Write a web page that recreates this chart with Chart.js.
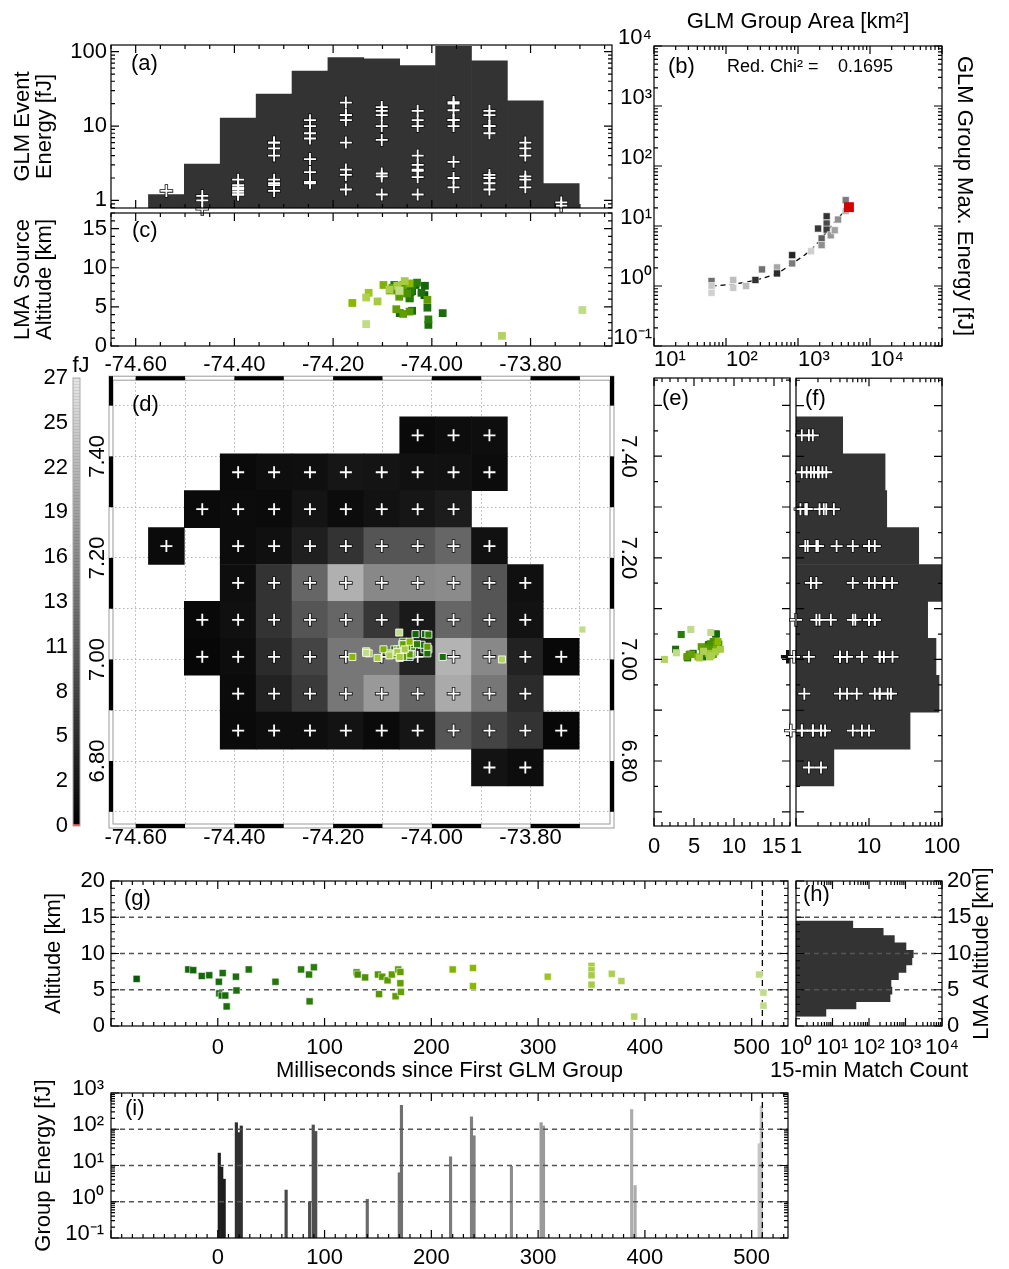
<!DOCTYPE html>
<html>
<head>
<meta charset="utf-8">
<title>GLM / LMA flash overview</title>
<script src="https://cdn.jsdelivr.net/npm/chart.js@4.4.1/dist/chart.umd.min.js"></script>
<style>
  body { margin: 0; background: #fff; }
  #fig { position: relative; width: 1009px; height: 1269px; overflow: hidden; background: #fff; }
  #fig canvas { position: absolute; }
</style>
</head>
<body>
<div id="fig"></div>
<script>
// ---------------- data ----------------
// GLM pixel grid (panel d): pixel centre longitudes / latitudes
const glmColLon = [-74.5378, -74.4651, -74.3924, -74.3196, -74.2469, -74.1742, -74.1015, -74.0287, -73.9560, -73.8833, -73.8106, -73.7378];
const glmRowLat = [7.4415, 7.3688, 7.2961, 7.2234, 7.1507, 7.0780, 7.0053, 6.9326, 6.8599, 6.7872];
const GLM_PIX = 0.0727;

// lit pixels: row index, column index, event energy [fJ]
const cellRow = [0,0,0, 1,1,1,1,1,1,1,1, 2,2,2,2,2,2,2,2, 3,3,3,3,3,3,3,3,3, 4,4,4,4,4,4,4,4,4,
                 5,5,5,5,5,5,5,5,5,5, 6,6,6,6,6,6,6,6,6,6,6, 7,7,7,7,7,7,7,7,7, 8,8,8,8,8,8,8,8,8,8, 9,9];
const cellCol = [7,8,9, 2,3,4,5,6,7,8,9, 1,2,3,4,5,6,7,8, 0,2,3,4,5,6,7,8,9, 2,3,4,5,6,7,8,9,10,
                 1,2,3,4,5,6,7,8,9,10, 1,2,3,4,5,6,7,8,9,10,11, 2,3,4,5,6,7,8,9,10, 2,3,4,5,6,7,8,9,10,11, 9,10];
const cellEnergy = [1.2,1.5,1.7, 1.2,1.6,1.77,2.6,2.3,2.05,2.0,1.4, 1.15,1.4,1.34,2.4,1.4,2.1,2.6,3.3,
                    1.34,1.45,1.9,3.6,6,10,10,12,2.0, 1.6,6,12,20.7,16,16,16.3,10,1.9,
                    1.0,1.9,6,10,12,6.5,3,12,10,2.1, 0.77,1.5,5,8,14,14,4,21,16,4,0.94,
                    1.3,4,6.8,14,18,12,20,14,5, 1.2,1.7,1.7,2.2,1.2,2.5,10,8,6,0.85, 2.2,1.5];

// summed energy per longitude column (panel a) and per latitude row (panel f)
const lonHistEnergy = [1.2, 3.07, 12.8, 27, 55, 83, 80, 65, 118, 75.5, 21.8, 1.68];
const latHistEnergy = [4.36, 16.6, 17.5, 48, 130, 63.6, 82.7, 91, 36.5, 3.3];

// LMA sources matched to the flash
const lmaTime = [-76, -27.6, -23, -15, -8, 1, 1.4, 3.7, 4.6, 7, 8.3, 17, 17.5, 29, 54, 78, 85.5, 86, 90, 130, 131, 138,
                 150, 151, 154, 159, 163, 166.5, 169, 171, 171, 171.5, 220, 239, 239, 309, 350, 350, 350, 350, 369, 378, 390, 507, 511, 511];
const lmaAlt = [6.5, 7.8, 7.7, 6.9, 7.0, 6.1, 4.5, 4.2, 7.3, 4.2, 2.7, 6.8, 4.9, 7.8, 6.1, 7.8, 7.1, 3.4, 8.1, 7.4, 7.1, 6.7,
                7.1, 4.4, 6.8, 6.3, 7.1, 4.1, 7.8, 5.9, 7.45, 4.7, 7.8, 8.0, 5.5, 6.8, 8.3, 7.7, 7.0, 5.7, 7.2, 6.2, 1.3, 7.1, 4.6, 2.8];
const lmaLon = [-74.015, -74.033, -74.014, -74.043, -74.040, -74.045, -74.040, -73.978, -74.043, -74.065, -74.007, -74.021,
                -74.009, -74.076, -74.045, -74.040, -74.043, -74.007, -74.030, -74.058, -74.060, -74.050, -74.070, -74.045,
                -74.065, -74.066, -74.085, -74.058, -74.058, -74.009, -74.080, -74.072, -74.098, -74.045, -74.161, -74.128,
                -74.055, -74.070, -74.065, -74.110, -74.086, -74.133, -73.858, -74.066, -73.695, -74.133];
const lmaLat = [7.020, 7.050, 7.050, 7.020, 7.030, 7.005, 7.010, 7.005, 7.010, 7.003, 7.020, 7.029, 7.012, 7.020, 7.015,
                7.025, 7.030, 7.049, 7.030, 7.035, 7.030, 7.025, 7.020, 7.010, 7.020, 7.015, 7.012, 7.005, 7.030, 7.025,
                7.010, 7.010, 7.020, 7.035, 7.005, 7.012, 7.020, 7.015, 7.005, 7.003, 7.008, 7.016, 7.000, 7.053, 7.059, 7.013];

// panel b: group area vs group max event energy
const groupArea = [63, 63, 63, 126, 126, 190, 256, 316, 511, 511, 830, 830, 1520, 1900, 2130, 2130, 2500, 2500, 2500, 2850, 3240, 3600, 4600, 4600];
const groupMaxE = [1.21, 1.0, 0.77, 1.26, 0.93, 1.0, 1.26, 1.89, 2.04, 1.62, 3.27, 2.38, 3.8, 9.06, 6.2, 4.8, 14.5, 11, 8.7, 7.0, 8.5, 12.8, 27, 17.7];
const groupShade = ['#6e6e6e', '#c8c8c8', '#d0d0d0', '#bdbdbd', '#cacaca', '#bdbdbd', '#303030', '#707070', '#a6a6a6', '#2c2c2c', '#262626', '#7a7a7a',
                    '#cfcfcf', '#383838', '#5e5e5e', '#8e8e8e', '#333333', '#4a4a4a', '#3c3c3c', '#959595', '#a0a0a0', '#909090', '#7b7b7b', '#b8b8b8'];
const bestArea = [5100];
const bestMaxE = [20.6];
const fitArea = [63, 130, 256, 511, 830, 1200, 1520, 2000, 2500, 3200, 4000, 4600];
const fitMaxE = [1.0, 1.07, 1.24, 1.6, 2.35, 3.2, 4.0, 5.7, 8.0, 11.5, 15.5, 18.5];

// panel h: 15-minute LMA match counts by altitude bin
const altBinKm = [1.85, 2.86, 3.87, 4.88, 5.89, 6.90, 7.91, 8.93, 9.94, 10.95, 11.96, 12.97, 13.98];
const altBinCount = [6.6, 44, 377, 425, 400, 640, 1030, 1500, 1630, 1030, 495, 245, 36];

// panel i: GLM group energies in time
const groupTime = [1.4, 3.7, 6, 17.4, 19.7, 22, 64, 86, 89.4, 91.7, 140, 170, 172, 218, 237.6, 240, 275, 302.8, 305, 387.6, 390.8, 507, 509];
const groupEnergy = [22, 9, 4.2, 152, 81, 123, 2.1, 1.0, 131, 87, 1.17, 6.3, 460, 17.4, 220, 66, 9.5, 152, 123, 350, 2.8, 40, 435];
const groupEnergyShade = ['#1e1e1e', '#1e1e1e', '#1e1e1e', '#303030', '#303030', '#303030', '#474747', '#4e4e4e', '#4e4e4e', '#4e4e4e', '#6a6a6a', '#707070',
                          '#707070', '#7c7c7c', '#808080', '#808080', '#8e8e8e', '#9a9a9a', '#9a9a9a', '#acacac', '#acacac', '#c6c6c6', '#c6c6c6'];

// ticks and reference lines
const lonTicks = [-74.6, -74.4, -74.2, -74.0, -73.8];
const lonGrid = [-74.6, -74.5, -74.4, -74.3, -74.2, -74.1, -74.0, -73.9, -73.8, -73.7];
const latGrid = [6.7, 6.8, 6.9, 7.0, 7.1, 7.2, 7.3, 7.4, 7.5];
const latLabels = ['', '6.80', '', '7.00', '', '7.20', '', '7.40', ''];
const cbarTicks = [0, 2.7, 5.4, 8.1, 10.8, 13.5, 16.2, 18.9, 21.6, 24.3, 27];
const cbarLabels = ['0', '2', '5', '8', '11', '13', '16', '19', '22', '25', '27'];
const msTicks = [0, 100, 200, 300, 400, 500];
const altTicks = [0, 5, 10, 15, 20];
const refAlt = [5, 10, 15];
const refEnergy = [1, 10, 100];
const markerTime = 510;

const LON = [-74.65, -73.635];
const LAT = [6.672, 7.554];
const MS = [-100, 534];

// ---------------- helpers ----------------
Chart.defaults.font.family = '"Liberation Sans", Arial, Helvetica, sans-serif';
Chart.defaults.font.size = 22;
Chart.defaults.font.lineHeight = 1;
Chart.defaults.color = '#000';
Chart.defaults.animation = false;
Chart.defaults.responsive = false;
Chart.defaults.events = [];
Chart.defaults.plugins.legend.display = false;
Chart.defaults.plugins.tooltip.enabled = false;

const fig = document.getElementById('fig');

function panel(box, pad, config) {
  const c = document.createElement('canvas');
  const w = box.r - box.l + pad[0] + pad[2];
  const h = box.b - box.t + pad[1] + pad[3];
  c.width = w; c.height = h;
  c.style.left = (box.l - pad[0]) + 'px';
  c.style.top = (box.t - pad[1]) + 'px';
  c.style.width = w + 'px';
  c.style.height = h + 'px';
  fig.appendChild(c);
  config.options.devicePixelRatio = 1;
  config.options.maintainAspectRatio = false;
  return new Chart(c, config);
}

const size = n => s => { if (s.isHorizontal()) s.height = n; else s.width = n; };
const setTicks = vals => s => { s.ticks = vals.map(v => ({value: v})); };

// bar datasets would otherwise pull offset:true into the index axis
function axis(o) {
  const t = Object.assign({autoSkip: false, maxRotation: 0, minRotation: 0, padding: 4}, o.ticks || {});
  return Object.assign({offset: false, grid: {display: false, drawTicks: false, offset: false}, border: {display: false}}, o, {ticks: t});
}

const SUP = {'-': '\u207B', '0': '\u2070', '1': '\u00B9', '2': '\u00B2', '3': '\u00B3', '4': '\u2074', '5': '\u2075'};
const pow10 = v => '10' + String(Math.round(Math.log10(v))).split('').map(ch => SUP[ch]).join('');

const timeStops = [
  [-80, [8, 88, 8]], [0, [24, 108, 12]], [90, [44, 126, 10]], [170, [98, 158, 0]],
  [240, [138, 184, 0]], [310, [156, 196, 36]], [390, [178, 211, 96]], [520, [192, 221, 138]]
];
function timeColor(t) {
  for (let i = 1; i < timeStops.length; i++) {
    const [t1, c1] = timeStops[i];
    if (t <= t1 || i === timeStops.length - 1) {
      const [t0, c0] = timeStops[i - 1];
      const f = Math.max(0, Math.min(1, (t - t0) / (t1 - t0)));
      return 'rgb(' + c0.map((v, k) => Math.round(v + (c1[k] - v) * f)).join(',') + ')';
    }
  }
}
const grayFor = e => { const g = Math.round(Math.min(e, 27) / 27 * 230); return `rgb(${g},${g},${g})`; };

const pts = (xs, ys) => xs.map((x, i) => ({x, y: ys[i]}));
const lmaColor = lmaTime.map(timeColor);
const cellLon = cellCol.map(c => glmColLon[c]);
const cellLat = cellRow.map(r => glmRowLat[r]);

function crosses(data) {
  return [
    {data, pointStyle: 'cross', pointRadius: 6, pointBorderColor: '#fff', pointBorderWidth: 1.8, clip: false},
    {data, pointStyle: 'cross', pointRadius: 6.8, pointBorderColor: '#111', pointBorderWidth: 3.4, clip: false}
  ];
}
function squares(data, r, border) {
  return {data, pointStyle: 'rect', pointRadius: r, pointBackgroundColor: lmaColor,
          pointBorderColor: border || 'rgba(0,0,0,0)', pointBorderWidth: border ? 1 : 0};
}
function hLine(v, range, color, dash) {
  return {type: 'line', data: [{x: range[0], y: v}, {x: range[1], y: v}], borderColor: color,
          borderWidth: 1.3, borderDash: dash, pointRadius: 0};
}
function vLine(v, range, color, dash) {
  return {type: 'line', data: [{x: v, y: range[0]}, {x: v, y: range[1]}], borderColor: color,
          borderWidth: 1.3, borderDash: dash, pointRadius: 0};
}

function minorVals(min, max, sp) {
  const out = [];
  if (sp.log) {
    for (let d = Math.floor(Math.log10(min)) - 1; d <= Math.ceil(Math.log10(max)); d++) {
      for (let k = 2; k <= 9; k++) {
        const v = k * Math.pow(10, d);
        if (v > min && v < max) out.push(v);
      }
    }
  } else if (sp.minorStep) {
    const s = sp.minorStep;
    for (let v = Math.ceil(min / s - 1e-9) * s; v <= max + 1e-9; v += s) out.push(v);
  }
  return out;
}

// IDL-like frame with inward ticks on all four sides
function frame(spec) {
  return {
    id: 'frame',
    afterDatasetsDraw(chart) {
      const {ctx, chartArea: a, scales} = chart;
      ctx.save();
      ctx.strokeStyle = '#000';
      ctx.lineWidth = 1.2;
      ctx.beginPath();
      ['x', 'y'].forEach(id => {
        const sp = spec[id];
        if (!sp) return;
        const sc = scales[id];
        const marks = sp.major.map(v => [v, 8]).concat(minorVals(sc.min, sc.max, sp).map(v => [v, 4]));
        marks.forEach(([v, len]) => {
          const p = sc.getPixelForValue(v);
          if (id === 'x') {
            if (p < a.left - 0.5 || p > a.right + 0.5) return;
            ctx.moveTo(p, a.bottom); ctx.lineTo(p, a.bottom - len);
            ctx.moveTo(p, a.top); ctx.lineTo(p, a.top + len);
          } else {
            if (p < a.top - 0.5 || p > a.bottom + 0.5) return;
            ctx.moveTo(a.left, p); ctx.lineTo(a.left + len, p);
            ctx.moveTo(a.right, p); ctx.lineTo(a.right - len, p);
          }
        });
      });
      ctx.stroke();
      ctx.strokeRect(a.left, a.top, a.right - a.left, a.bottom - a.top);
      ctx.restore();
    }
  };
}

// map-style border: alternating black / white segments every 0.1 degree
function mapBorder(lonStarts, latStarts, step) {
  return {
    id: 'mapBorder',
    afterDatasetsDraw(chart) {
      const {ctx, chartArea: a, scales: {x, y}} = chart;
      ctx.save();
      ctx.strokeStyle = '#9a9a9a';
      ctx.lineWidth = 1;
      ctx.strokeRect(a.left - 2, a.top - 2, a.right - a.left + 4, a.bottom - a.top + 4);
      ctx.strokeRect(a.left + 2, a.top + 2, a.right - a.left - 4, a.bottom - a.top - 4);
      ctx.fillStyle = '#000';
      lonStarts.forEach(v => {
        const p1 = Math.max(x.getPixelForValue(v), a.left - 2);
        const p2 = Math.min(x.getPixelForValue(v + step), a.right + 2);
        if (p2 <= p1) return;
        ctx.fillRect(p1, a.top - 2, p2 - p1, 4);
        ctx.fillRect(p1, a.bottom - 2, p2 - p1, 4);
      });
      latStarts.forEach(v => {
        const q1 = Math.max(y.getPixelForValue(v + step), a.top - 2);
        const q2 = Math.min(y.getPixelForValue(v), a.bottom + 2);
        if (q2 <= q1) return;
        ctx.fillRect(a.left - 2, q1, 4, q2 - q1);
        ctx.fillRect(a.right - 2, q1, 4, q2 - q1);
      });
      ctx.restore();
    }
  };
}

function colorbar() {
  return {
    id: 'colorbar',
    beforeDatasetsDraw(chart) {
      const {ctx, chartArea: a} = chart;
      const g = ctx.createLinearGradient(0, a.bottom, 0, a.top);
      g.addColorStop(0, '#000');
      g.addColorStop(1, '#e6e6e6');
      ctx.save();
      ctx.fillStyle = g;
      ctx.fillRect(a.left, a.top, a.right - a.left, a.bottom - a.top);
      // faint banding like the stepped colour table
      ctx.fillStyle = 'rgba(0,0,0,0.08)';
      for (let yy = a.top; yy < a.bottom; yy += 3) ctx.fillRect(a.left, yy, a.right - a.left, 1);
      ctx.fillStyle = '#e04040';
      ctx.fillRect(a.left, a.bottom - 2, a.right - a.left, 2);
      ctx.strokeStyle = '#aaa';
      ctx.lineWidth = 1;
      ctx.strokeRect(a.left, a.top, a.right - a.left, a.bottom - a.top);
      ctx.restore();
    }
  };
}

function texts(items) {
  return {
    id: 'texts',
    afterDraw(chart) {
      const {ctx, chartArea: a} = chart;
      items.forEach(it => {
        ctx.save();
        ctx.font = (it.size || 22) + 'px "Liberation Sans", Arial, Helvetica, sans-serif';
        ctx.fillStyle = '#000';
        ctx.textAlign = it.align || 'left';
        ctx.textBaseline = 'middle';
        ctx.translate(a.left + it.dx, a.top + it.dy);
        if (it.rot) ctx.rotate(it.rot);
        ctx.fillText(it.text, 0, 0);
        ctx.restore();
      });
    }
  };
}

const barBase = {type: 'bar', backgroundColor: '#333', borderWidth: 0, barPercentage: 1, categoryPercentage: 1};

// ---------------- (a) energy vs longitude ----------------
panel({l: 111, t: 45, r: 612, b: 208}, [111, 20, 20, 20], {
  type: 'scatter',
  data: {datasets: [
    ...crosses(pts(cellLon, cellEnergy)),
    Object.assign({data: pts(glmColLon, lonHistEnergy)}, barBase)
  ]},
  options: {
    layout: {padding: {left: 0, top: 20, right: 20, bottom: 20}},
    scales: {
      x: axis({type: 'linear', display: false, min: LON[0], max: LON[1], afterBuildTicks: setTicks(lonTicks)}),
      y: axis({type: 'logarithmic', min: 0.79, max: 123, afterFit: size(111), afterBuildTicks: setTicks([1, 10, 100]),
               ticks: {callback: v => String(v), padding: 4},
               title: {display: true, text: ['GLM Event', 'Energy [fJ]'], padding: {top: 12, bottom: 0}}})
    }
  },
  plugins: [frame({x: {major: lonTicks, minorStep: 0.05}, y: {major: [1, 10, 100], log: true}}),
            texts([{text: '(a)', dx: 20, dy: 19}])]
});

// ---------------- (c) altitude vs longitude ----------------
panel({l: 111, t: 213, r: 612, b: 346}, [111, 20, 20, 34], {
  type: 'scatter',
  data: {datasets: [squares(pts(lmaLon, lmaAlt), 5.5)]},
  options: {
    layout: {padding: {left: 0, top: 20, right: 20, bottom: 0}},
    scales: {
      x: axis({type: 'linear', min: LON[0], max: LON[1], afterFit: size(34), afterBuildTicks: setTicks(lonTicks),
               ticks: {callback: v => v.toFixed(2), padding: 8}}),
      y: axis({type: 'linear', min: 0, max: 17, afterFit: size(111), afterBuildTicks: setTicks([0, 5, 10, 15]),
               ticks: {callback: v => String(v), padding: 4},
               title: {display: true, text: ['LMA Source', 'Altitude [km]'], padding: {top: 12, bottom: 0}}})
    }
  },
  plugins: [frame({x: {major: lonTicks, minorStep: 0.05}, y: {major: [0, 5, 10, 15], minorStep: 1}}),
            texts([{text: '(c)', dx: 21, dy: 18}])]
});

// ---------------- (b) area vs max energy ----------------
panel({l: 654, t: 46, r: 942, b: 346}, [40, 35, 42, 28], {
  type: 'scatter',
  data: {datasets: [
    {data: pts(bestArea, bestMaxE), pointStyle: 'rect', pointRadius: 7, pointBackgroundColor: '#d40000', pointBorderWidth: 0},
    {data: pts(groupArea, groupMaxE), pointStyle: 'rect', pointRadius: 5, pointBackgroundColor: groupShade,
     pointBorderColor: 'rgba(255,255,255,0.6)', pointBorderWidth: 1},
    {type: 'line', data: pts(fitArea, fitMaxE), borderColor: '#000', borderWidth: 1.3, borderDash: [5, 4], pointRadius: 0}
  ]},
  options: {
    layout: {padding: 0},
    scales: {
      x: axis({type: 'logarithmic', position: 'bottom', min: 10, max: 1e5, afterFit: size(28),
               afterBuildTicks: setTicks([10, 100, 1e3, 1e4, 1e5]),
               ticks: {callback: v => (v >= 1e5 ? '' : pow10(v)), align: 'start', padding: 3}}),
      x2: axis({type: 'logarithmic', position: 'top', min: 10, max: 1e5, afterFit: size(35), ticks: {display: false},
                title: {display: true, text: 'GLM Group Area [km\u00B2]', padding: {top: 0, bottom: 0}}}),
      y: axis({type: 'logarithmic', position: 'left', min: 0.1, max: 1e4, afterFit: size(40),
               afterBuildTicks: setTicks([0.1, 1, 10, 100, 1e3, 1e4]),
               ticks: {callback: v => pow10(v), padding: 2, labelOffset: -8}}),
      y2: axis({type: 'logarithmic', position: 'right', min: 0.1, max: 1e4, afterFit: size(42), ticks: {display: false},
                title: {display: true, text: 'GLM Group Max. Energy [fJ]', padding: {top: 9, bottom: 0}}})
    }
  },
  plugins: [frame({x: {major: [10, 100, 1e3, 1e4, 1e5], log: true}, y: {major: [0.1, 1, 10, 100, 1e3, 1e4], log: true}}),
            texts([{text: '(b)', dx: 14, dy: 21},
                   {text: 'Red. Chi\u00B2 =', dx: 73, dy: 21, size: 18},
                   {text: '0.1695', dx: 239, dy: 21, size: 18, align: 'right'}])]
});

// ---------------- colour bar ----------------
panel({l: 73, t: 378, r: 80, b: 826}, [73, 28, 12, 20], {
  type: 'scatter',
  data: {datasets: []},
  options: {
    layout: {padding: {left: 0, top: 28, right: 12, bottom: 20}},
    scales: {
      x: axis({type: 'linear', display: false, min: 0, max: 1}),
      y: axis({type: 'linear', min: 0, max: 27, afterFit: size(73), afterBuildTicks: setTicks(cbarTicks),
               ticks: {callback: (v, i) => cbarLabels[i], padding: 5}})
    }
  },
  plugins: [colorbar(), texts([{text: 'fJ', dx: 8, dy: -12, align: 'center'}])]
});

// ---------------- (d) map ----------------
const latLabel = v => { const i = latGrid.findIndex(g => Math.abs(g - v) < 1e-6); return i < 0 ? '' : latLabels[i]; };
const lonLabel = v => (lonTicks.some(t => Math.abs(t - v) < 1e-6) ? v.toFixed(2) : '');
const dotted = {display: true, drawTicks: false, offset: false, color: '#b4b4b4', lineWidth: 1};

panel({l: 111, t: 378, r: 612, b: 826}, [30, 10, 30, 30], {
  type: 'scatter',
  data: {datasets: [
    squares(pts(lmaLon, lmaLat), 5, 'rgba(255,255,255,0.85)'),
    ...crosses(pts(cellLon, cellLat)),
    Object.assign({}, barBase, {
      data: cellLon.map((x, i) => ({x, y: [cellLat[i] - GLM_PIX / 2, cellLat[i] + GLM_PIX / 2]})),
      backgroundColor: cellEnergy.map(grayFor)
    })
  ]},
  options: {
    layout: {padding: {left: 0, top: 10, right: 0, bottom: 0}},
    scales: {
      x: axis({type: 'linear', min: LON[0], max: LON[1], afterFit: size(30), afterBuildTicks: setTicks(lonGrid),
               grid: dotted, border: {display: false, dash: [1.5, 2.5]},
               ticks: {callback: lonLabel, padding: 1}}),
      y: axis({type: 'linear', position: 'left', min: LAT[0], max: LAT[1], afterFit: size(30), afterBuildTicks: setTicks(latGrid),
               grid: dotted, border: {display: false, dash: [1.5, 2.5]},
               ticks: {callback: latLabel, minRotation: 90, maxRotation: 90, crossAlign: 'center', padding: -8}}),
      y2: axis({type: 'linear', position: 'right', min: LAT[0], max: LAT[1], afterFit: size(30), afterBuildTicks: setTicks(latGrid),
                ticks: {callback: latLabel, minRotation: -90, maxRotation: -90, crossAlign: 'center', padding: -5}})
    }
  },
  plugins: [mapBorder([-74.6, -74.4, -74.2, -74.0, -73.8], [6.7, 6.9, 7.1, 7.3, 7.5], 0.1),
            texts([{text: '(d)', dx: 21, dy: 27}])]
});

// ---------------- (e) latitude vs altitude ----------------
panel({l: 654, t: 378, r: 790, b: 826}, [20, 10, 12, 34], {
  type: 'scatter',
  data: {datasets: [squares(pts(lmaAlt, lmaLat), 5)]},
  options: {
    layout: {padding: {left: 20, top: 10, right: 12, bottom: 0}},
    scales: {
      x: axis({type: 'linear', min: 0, max: 17, afterFit: size(34), afterBuildTicks: setTicks([0, 5, 10, 15]),
               ticks: {callback: v => String(v), padding: 10}}),
      y: axis({type: 'linear', display: false, min: LAT[0], max: LAT[1], afterBuildTicks: setTicks(latGrid)})
    }
  },
  plugins: [frame({x: {major: [0, 5, 10, 15], minorStep: 1}, y: {major: latGrid, minorStep: 0.05}}),
            texts([{text: '(e)', dx: 8, dy: 21}])]
});

// ---------------- (f) energy vs latitude ----------------
panel({l: 796, t: 378, r: 942, b: 826}, [20, 10, 30, 34], {
  type: 'scatter',
  data: {datasets: [
    ...crosses(pts(cellEnergy, cellLat)),
    Object.assign({}, barBase, {indexAxis: 'y', data: glmRowLat.map((y, i) => ({x: latHistEnergy[i], y}))})
  ]},
  options: {
    layout: {padding: {left: 20, top: 10, right: 30, bottom: 0}},
    scales: {
      x: axis({type: 'logarithmic', min: 1, max: 100, afterFit: size(34), afterBuildTicks: setTicks([1, 10, 100]),
               ticks: {callback: v => String(v), padding: 10}}),
      y: axis({type: 'linear', display: false, min: LAT[0], max: LAT[1], afterBuildTicks: setTicks(latGrid)})
    }
  },
  plugins: [frame({x: {major: [1, 10, 100], log: true}, y: {major: latGrid, minorStep: 0.05}}),
            texts([{text: '(f)', dx: 9, dy: 21}])]
});

// ---------------- (g) altitude vs time ----------------
panel({l: 111, t: 881, r: 788, b: 1026}, [111, 20, 20, 56], {
  type: 'scatter',
  data: {datasets: [
    squares(pts(lmaTime, lmaAlt), 5, 'rgba(255,255,255,0.55)'),
    ...refAlt.map(v => hLine(v, MS, '#555', [5, 4])),
    vLine(markerTime, [0, 20], '#000', [6, 4])
  ]},
  options: {
    layout: {padding: {left: 0, top: 20, right: 20, bottom: 0}},
    scales: {
      x: axis({type: 'linear', min: MS[0], max: MS[1], afterFit: size(56), afterBuildTicks: setTicks(msTicks),
               ticks: {callback: v => String(v), padding: 11},
               title: {display: true, text: 'Milliseconds since First GLM Group', padding: {top: 0, bottom: 0}}}),
      y: axis({type: 'linear', min: 0, max: 20, afterFit: size(111), afterBuildTicks: setTicks(altTicks),
               ticks: {callback: v => String(v), padding: 6},
               title: {display: true, text: 'Altitude [km]', padding: {top: 43, bottom: 0}}})
    }
  },
  plugins: [frame({x: {major: [-100].concat(msTicks), minorStep: 10}, y: {major: altTicks, minorStep: 1}}),
            texts([{text: '(g)', dx: 13, dy: 18}])]
});

// ---------------- (h) match count vs altitude ----------------
panel({l: 796, t: 881, r: 942, b: 1026}, [35, 20, 62, 56], {
  type: 'scatter',
  data: {datasets: [
    ...refAlt.map(v => hLine(v, [1, 1e4], '#555', [5, 4])),
    Object.assign({}, barBase, {indexAxis: 'y', data: altBinKm.map((y, i) => ({x: altBinCount[i], y}))})
  ]},
  options: {
    layout: {padding: {left: 35, top: 20, right: 0, bottom: 0}},
    scales: {
      x: axis({type: 'logarithmic', min: 1, max: 1e4, afterFit: size(56), afterBuildTicks: setTicks([1, 10, 100, 1e3, 1e4]),
               ticks: {callback: v => pow10(v), padding: 11}}),
      y: axis({type: 'linear', position: 'right', min: 0, max: 20, afterFit: size(62), afterBuildTicks: setTicks(altTicks),
               ticks: {callback: v => String(v), padding: 5}})
    }
  },
  plugins: [frame({x: {major: [1, 10, 100, 1e3, 1e4], log: true}, y: {major: altTicks, minorStep: 1}}),
            texts([{text: '(h)', dx: 7, dy: 14},
                   {text: '15-min Match Count', dx: 73, dy: 190, align: 'center'},
                   {text: 'LMA Altitude [km]', dx: 186, dy: 72.5, align: 'center', rot: -Math.PI / 2}])]
});

// ---------------- (i) group energy vs time ----------------
panel({l: 111, t: 1093, r: 788, b: 1238}, [111, 20, 20, 31], {
  type: 'scatter',
  data: {datasets: [
    vLine(markerTime, [0.1, 1000], '#000', [6, 4]),
    ...refEnergy.map(v => hLine(v, MS, '#555', [5, 4])),
    Object.assign({}, barBase, {data: pts(groupTime, groupEnergy), backgroundColor: groupEnergyShade, barThickness: 2.5})
  ]},
  options: {
    layout: {padding: {left: 0, top: 20, right: 20, bottom: 0}},
    scales: {
      x: axis({type: 'linear', min: MS[0], max: MS[1], afterFit: size(31), afterBuildTicks: setTicks(msTicks),
               ticks: {callback: v => String(v), padding: 9}}),
      y: axis({type: 'logarithmic', min: 0.1, max: 1000, afterFit: size(111), afterBuildTicks: setTicks([0.1, 1, 10, 100, 1000]),
               ticks: {callback: v => pow10(v), padding: 7, labelOffset: -4},
               title: {display: true, text: 'Group Energy [fJ]', padding: {top: 33, bottom: 0}}})
    }
  },
  plugins: [frame({x: {major: [-100].concat(msTicks), minorStep: 10}, y: {major: [0.1, 1, 10, 100, 1000], log: true}}),
            texts([{text: '(i)', dx: 14, dy: 16}])]
});
</script>
</body>
</html>
